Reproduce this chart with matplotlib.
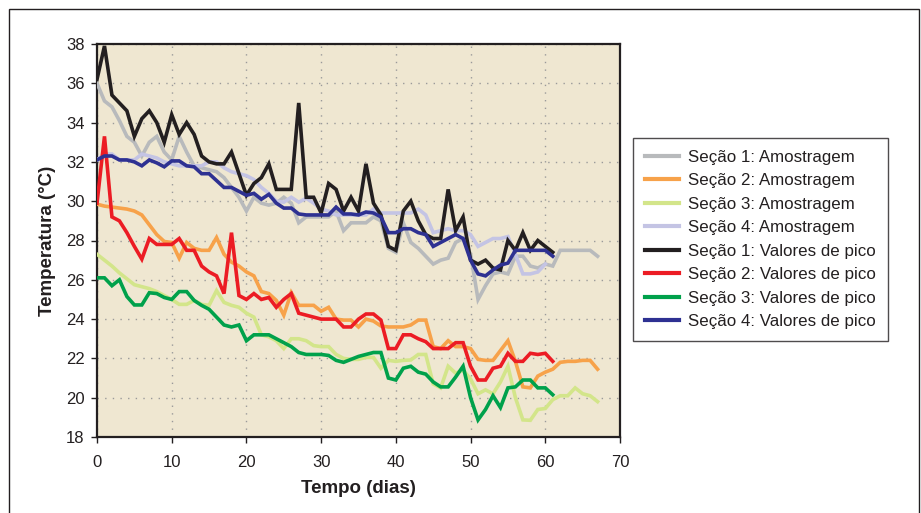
import matplotlib
matplotlib.use("Agg")
import matplotlib.pyplot as plt
from matplotlib.patches import Rectangle
import numpy as np

plt.rcParams['font.family'] = ['Liberation Sans', 'DejaVu Sans']

# ---------------- data ----------------
days_peak = list(range(0, 62))
days_s123 = list(range(0, 68))
days_s4 = list(range(0, 61))

s1_amostragem = [36.0, 35.1, 34.8, 34.1, 33.3, 33.0, 32.3, 33.0, 33.3, 32.5,
                 32.1, 33.3, 32.5, 31.8, 31.7, 31.6, 31.5, 31.2, 30.7, 30.2,
                 29.5, 30.2, 29.9, 29.8, 29.9, 30.2, 29.9, 28.9, 29.2, 29.2,
                 29.2, 29.2, 29.5, 28.5, 28.9, 28.9, 28.9, 29.2, 29.0, 27.6,
                 27.4, 28.9, 27.9, 27.6, 27.2, 26.8, 27.0, 27.1, 27.9, 28.1,
                 27.3, 25.0, 25.7, 26.3, 26.4, 26.3, 27.2, 27.2, 26.7, 26.6,
                 26.8, 26.7, 27.5, 27.5, 27.5, 27.5, 27.5, 27.2]

s2_amostragem = [29.85, 29.75, 29.7, 29.65, 29.6, 29.5, 29.3, 28.8, 28.3, 27.95,
                 27.9, 27.1, 27.9, 27.6, 27.5, 27.5, 28.15, 27.3, 26.9, 26.7,
                 26.4, 26.2, 25.4, 25.3, 24.95, 24.2, 25.35, 24.7, 24.7, 24.7,
                 24.4, 24.6, 24.0, 23.95, 23.95, 23.6, 24.0, 23.9, 23.65, 23.6,
                 23.6, 23.6, 23.7, 23.95, 23.95, 22.6, 22.5, 22.9, 22.6, 22.6,
                 22.5, 21.95, 21.9, 21.9, 22.4, 22.9, 21.85, 20.55, 20.5, 21.1,
                 21.3, 21.45, 21.8, 21.85, 21.85, 21.9, 21.9, 21.45]

s3_amostragem = [27.3, 27.0, 26.7, 26.35, 26.05, 25.75, 25.65, 25.55, 25.4, 25.2,
                 25.0, 24.75, 24.75, 24.95, 24.75, 24.7, 25.45, 24.85, 24.7, 24.6,
                 24.3, 24.1, 23.2, 23.1, 22.9, 22.5, 23.0, 23.0, 22.9, 22.65,
                 22.6, 22.6, 22.2, 22.0, 21.95, 21.95, 22.05, 22.05, 21.5, 21.9,
                 21.85, 21.9, 21.92, 22.2, 22.2, 20.7, 20.5, 21.6, 21.25, 21.4,
                 20.95, 20.2, 20.4, 20.2, 20.8, 21.6, 20.0, 18.87, 18.85, 19.4,
                 19.45, 19.9, 20.1, 20.1, 20.5, 20.2, 20.1, 19.8]

s4_amostragem = [32.1, 32.4, 32.4, 32.1, 32.1, 32.1, 32.4, 32.3, 32.2, 32.0,
                 31.9, 31.8, 31.8, 31.8, 31.8, 32.0, 32.0, 31.7, 31.5, 31.4,
                 31.3, 31.1, 30.7, 30.4, 30.0, 29.95, 30.2, 29.95, 30.15, 29.9,
                 29.6, 29.5, 29.3, 29.3, 29.3, 29.3, 29.3, 29.6, 29.4, 29.4,
                 29.4, 29.4, 29.4, 29.6, 29.3, 28.4, 28.5, 28.6, 28.5, 28.5,
                 28.3, 27.7, 27.9, 28.1, 28.1, 28.2, 27.3, 26.3, 26.3, 26.4,
                 26.8]

s1_pico = [36.2, 37.9, 35.4, 35.0, 34.6, 33.3, 34.2, 34.6, 34.0, 33.0,
           34.4, 33.4, 34.0, 33.4, 32.3, 32.0, 31.9, 31.9, 32.5, 31.4,
           30.3, 30.9, 31.2, 31.9, 30.6, 30.6, 30.6, 35.0, 30.2, 30.2,
           29.4, 30.9, 30.6, 29.5, 30.2, 29.5, 31.9, 29.9, 29.3, 27.7,
           27.5, 29.5, 30.0, 29.0, 28.3, 28.1, 28.1, 30.6, 28.5, 29.2,
           27.0, 26.8, 27.0, 26.6, 26.5, 28.0, 27.5, 28.4, 27.5, 28.0,
           27.7, 27.4]

s2_pico = [29.9, 33.3, 29.2, 29.0, 28.4, 27.7, 27.05, 28.1, 27.8, 27.8,
           27.8, 28.1, 27.5, 27.5, 26.7, 26.4, 26.2, 25.3, 28.4, 25.2,
           25.0, 25.3, 25.0, 25.1, 24.6, 25.0, 25.3, 24.3, 24.2, 24.1,
           24.0, 24.0, 24.0, 23.6, 23.6, 24.0, 24.26, 24.26, 23.95, 22.5,
           22.5, 23.2, 23.2, 23.0, 22.85, 22.5, 22.5, 22.5, 22.8, 22.8,
           21.6, 20.9, 20.9, 21.5, 21.6, 22.26, 21.85, 21.85, 22.26, 22.2,
           22.26, 21.85]

s3_pico = [26.1, 26.1, 25.7, 26.0, 25.15, 24.72, 24.72, 25.34, 25.3, 25.1,
           25.0, 25.4, 25.4, 24.95, 24.7, 24.5, 24.1, 23.7, 23.6, 23.7,
           22.9, 23.2, 23.2, 23.2, 23.0, 22.8, 22.6, 22.3, 22.2, 22.2,
           22.2, 22.15, 21.9, 21.8, 21.95, 22.1, 22.2, 22.3, 22.3, 21.0,
           20.9, 21.5, 21.6, 21.3, 21.2, 20.8, 20.55, 20.55, 21.05, 21.6,
           20.0, 18.87, 19.4, 20.1, 19.5, 20.5, 20.55, 20.9, 20.9, 20.5,
           20.5, 20.15]

s4_pico = [32.1, 32.3, 32.3, 32.1, 32.1, 32.0, 31.8, 32.1, 31.95, 31.75,
           32.05, 32.05, 31.8, 31.75, 31.4, 31.4, 31.05, 30.7, 30.7, 30.5,
           30.3, 30.4, 30.1, 30.35, 29.9, 29.65, 29.65, 29.35, 29.3, 29.3,
           29.3, 29.3, 29.7, 29.35, 29.35, 29.3, 29.45, 29.4, 29.2, 28.4,
           28.4, 28.6, 28.6, 28.4, 28.3, 27.7, 27.9, 28.1, 28.3, 28.1,
           27.0, 26.3, 26.2, 26.5, 26.75, 26.85, 27.5, 27.5, 27.5, 27.5,
           27.5, 27.2]

labels = ["Seção 1: Amostragem", "Seção 2: Amostragem", "Seção 3: Amostragem",
          "Seção 4: Amostragem", "Seção 1: Valores de pico", "Seção 2: Valores de pico",
          "Seção 3: Valores de pico", "Seção 4: Valores de pico"]
colors = ["#B8BABC", "#F7A24A", "#D3E58A", "#C4C4E4",
          "#231F20", "#EC1C24", "#00A14B", "#2E3192"]

x_ticks = [0, 10, 20, 30, 40, 50, 60, 70]
y_ticks = [18, 20, 22, 24, 26, 28, 30, 32, 34, 36, 38]

# ---------------- figure ----------------
W, H = 921, 513
fig = plt.figure(figsize=(W / 100, H / 100), dpi=100)
ax = fig.add_axes([97 / W, 1 - 437 / H, (620 - 97) / W, (437 - 44) / H])
ax.set_facecolor("#EFE7D1")

series = [
    (days_s123, s1_amostragem), (days_s123, s2_amostragem),
    (days_s123, s3_amostragem), (days_s4, s4_amostragem),
    (days_peak, s1_pico), (days_peak, s2_pico),
    (days_peak, s3_pico), (days_peak, s4_pico),
]
handles = []
for (xd, yd), lab, col in zip(series, labels, colors):
    n = min(len(xd), len(yd))
    h, = ax.plot(xd[:n], yd[:n], color=col, lw=2.6, label=lab,
                 solid_joinstyle="miter", zorder=3)
    handles.append(h)

ax.set_xlim(0, 70)
ax.set_ylim(18, 38)
ax.set_xticks(x_ticks)
ax.set_yticks(y_ticks)
ax.grid(True, color="#9A9A9A", linestyle=(0, (1, 4.5)), lw=1.0, zorder=1)
for s in ax.spines.values():
    s.set_color("#231F20")
    s.set_linewidth(1.6)
ax.tick_params(direction="out", length=4, width=1, colors="#231F20",
               labelsize=12, pad=5)
ax.tick_params(axis="x", pad=9)

ax.set_xlabel("Tempo (dias)", fontsize=13.5, fontweight="bold", color="#231F20",
              labelpad=7)
ax.set_ylabel("Temperatura (°C)", fontsize=13.5, fontweight="bold", color="#231F20",
              labelpad=7)

leg = fig.legend(handles=handles, labels=labels, loc="upper left",
                 bbox_to_anchor=(633 / W, 1 - 138 / H), bbox_transform=fig.transFigure,
                 fontsize=12.2, frameon=True, fancybox=False, handlelength=2.0,
                 labelspacing=0.5, borderpad=0.7, handletextpad=0.55,
                 borderaxespad=0)
leg.get_frame().set_edgecolor("#231F20")
leg.get_frame().set_linewidth(1.0)
for t in leg.get_texts():
    t.set_color("#231F20")
for l in leg.get_lines():
    l.set_linewidth(3)

# outer frame
fig.patches.append(Rectangle((9 / W, -0.05), (919 - 9) / W, 1.05 - 9 / H,
                             transform=fig.transFigure, fill=False,
                             edgecolor="#231F20", lw=1.0))

fig.savefig("out.png", dpi=100)
